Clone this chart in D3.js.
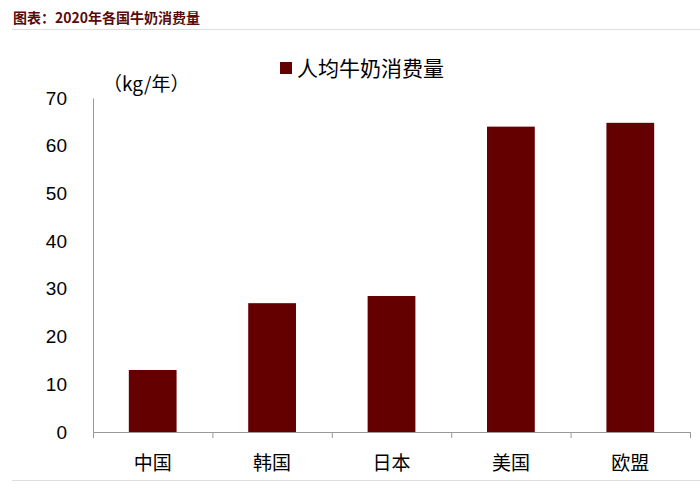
<!DOCTYPE html><html><head><meta charset="utf-8"><script src="https://cdn.jsdelivr.net/npm/d3@7"></script>
<style>body{margin:0;background:#fff}text{font-family:"Liberation Sans","Noto Sans CJK SC",sans-serif}</style></head><body><svg id="c" width="700" height="488"></svg><script>
const categories=["中国","韩国","日本","美国","欧盟"];
const values=[13,27,28.5,64,64.8];
const yTicks=[0,10,20,30,40,50,60,70];
const svg=d3.select("#c");
const cjk='"Noto Sans CJK SC",sans-serif';
svg.append("text").attr("x",13).attr("y",23).attr("font-size",14).attr("font-weight","bold").attr("fill","#5a0a0a").style("font-family",cjk).text("图表：2020年各国牛奶消费量");
svg.append("line").attr("x1",12).attr("x2",700).attr("y1",29.5).attr("y2",29.5).attr("stroke","#ddd");
svg.append("line").attr("x1",12).attr("x2",700).attr("y1",480.5).attr("y2",480.5).attr("stroke","#ddd");
const x=d3.scaleBand().domain(categories).range([93,690]).paddingInner(0.6).paddingOuter(0.3);
const y=d3.scaleLinear().domain([0,70]).range([432,98]);
svg.selectAll("rect.b").data(values).join("rect").attr("x",(d,i)=>x(categories[i])).attr("width",x.bandwidth()).attr("y",d=>y(d)).attr("height",d=>432-y(d)).attr("fill","#640000");
const ya=svg.append("g").attr("transform","translate(93,0)").call(d3.axisLeft(y).tickValues(yTicks).tickSize(0).tickPadding(26));
ya.select(".domain").attr("stroke","#999");
ya.selectAll("text").attr("font-size",19).attr("fill","#000").style("font-family",'"Liberation Sans",sans-serif');
const step=(690-93)/5;
const xa=svg.append("g").attr("transform","translate(0,432)").call(d3.axisBottom(d3.scaleLinear().domain([0,5]).range([93,690])).ticks(5).tickSize(6).tickFormat(""));
xa.selectAll("line").attr("stroke","#999");xa.select(".domain").attr("stroke","#999");
categories.forEach((c,i)=>svg.append("text").attr("x",x(c)+x.bandwidth()/2).attr("y",470).attr("text-anchor","middle").attr("font-size",19).style("font-family",cjk).text(c));
svg.append("text").attr("x",103).attr("y",91).attr("font-size",19).style("font-family",cjk).text("（kg/年）");
svg.append("rect").attr("x",280).attr("y",62).attr("width",12).attr("height",12).attr("fill","#640000");
svg.append("text").attr("x",297).attr("y",76).attr("font-size",21).style("font-family",cjk).text("人均牛奶消费量");
</script></body></html>
